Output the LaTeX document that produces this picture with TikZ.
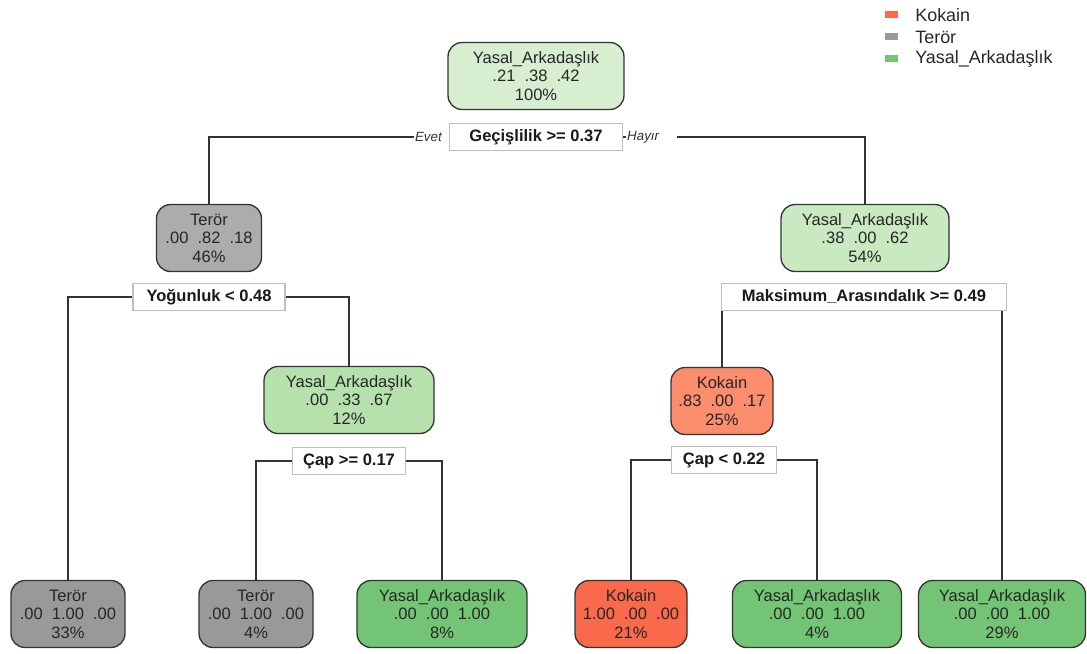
\documentclass[tikz,border=0pt]{standalone}
\usepackage{fontspec}
\setmainfont{Liberation Sans}
\usetikzlibrary{backgrounds}
\definecolor{kokainA}{RGB}{250,105,75}
\definecolor{kokainB}{RGB}{252,140,110}
\definecolor{terorA}{RGB}{153,153,153}
\definecolor{terorB}{RGB}{172,172,172}
\definecolor{yasalA}{RGB}{116,196,118}
\definecolor{yasalB}{RGB}{182,225,172}
\definecolor{yasalC}{RGB}{201,233,193}
\definecolor{yasalD}{RGB}{215,238,209}
\newcommand\gp{\hspace{0.55em}}
\tikzset{
  box/.style={draw=black!80, line width=0.75pt, rounded corners=0.28cm, minimum height=1.34cm,
    align=center, inner sep=1pt, text=black!85, font=\fontsize{9.4}{10.5}\selectfont},
  split/.style={draw=black!25, fill=white, line width=0.6pt, minimum height=0.54cm, inner sep=1pt,
    text=black!90, font=\bfseries\fontsize{9.4}{11}\selectfont},
  branch/.style={draw=black!80, line width=0.75pt},
  side/.style={inner sep=0.5pt, font=\itshape\fontsize{7.6}{9}\selectfont, text=black!80}
}
\begin{document}
\begin{tikzpicture}[x=0.02cm, y=-0.02cm]
\useasboundingbox (0,0) rectangle (1087,653);
% root
\node[box, fill=yasalD, minimum width=3.52cm] (kok) at (536,76) {Yasal\_Arkadaşlık\\.21\gp.38\gp.42\\100\%};
\node[split, minimum width=3.46cm] (gec) at (536,137) {Geçişlilik >= 0.37};
\node[side, anchor=east] (evet) at (443,137) {Evet};
\node[side, anchor=west] (hayir) at (626,137) {Hayır};
\coordinate (hayirson) at (677,137);
% left side
\node[box, fill=terorB, minimum width=2.1cm] (ter46) at (209,238) {Terör\\.00\gp.82\gp.18\\46\%};
\node[split, minimum width=3.04cm] (yog) at (209,297) {Yoğunluk < 0.48};
\node[box, fill=yasalB, minimum width=3.4cm] (yas12) at (349,400) {Yasal\_Arkadaşlık\\.00\gp.33\gp.67\\12\%};
\node[split, minimum width=2.26cm] (cap1) at (349,461) {Çap >= 0.17};
% right side
\node[box, fill=yasalC, minimum width=3.36cm] (yas54) at (865,238) {Yasal\_Arkadaşlık\\.38\gp.00\gp.62\\54\%};
\node[split, minimum width=5.7cm] (maks) at (864,297) {Maksimum\_Arasındalık >= 0.49};
\node[box, fill=kokainB, minimum width=2.04cm] (kok25) at (722,401) {Kokain\\.83\gp.00\gp.17\\25\%};
\node[split, minimum width=2.1cm] (cap2) at (724,460) {Çap < 0.22};
% leaves
\node[box, fill=terorA, minimum width=2.28cm] (ter33) at (68,614) {Terör\\.00\gp1.00\gp.00\\33\%};
\node[box, fill=terorA, minimum width=2.28cm] (ter4) at (256,614) {Terör\\.00\gp1.00\gp.00\\4\%};
\node[box, fill=yasalA, minimum width=3.4cm] (yas8) at (442,614) {Yasal\_Arkadaşlık\\.00\gp.00\gp1.00\\8\%};
\node[box, fill=kokainA, minimum width=2.24cm] (kok21) at (631,614) {Kokain\\1.00\gp.00\gp.00\\21\%};
\node[box, fill=yasalA, minimum width=3.38cm] (yas4) at (817,614) {Yasal\_Arkadaşlık\\.00\gp.00\gp1.00\\4\%};
\node[box, fill=yasalA, minimum width=3.34cm] (yas29) at (1002,614) {Yasal\_Arkadaşlık\\.00\gp.00\gp1.00\\29\%};
% branches
\begin{scope}[on background layer]
\draw[branch] (evet.west) -| (ter46);
\draw[branch] (gec.east) -- (hayir.west);
\draw[branch] (hayirson) -| (yas54);
\draw[branch] (yog) -| (ter33);
\draw[branch] (yog) -| (yas12);
\draw[branch] (cap1) -| (ter4);
\draw[branch] (cap1) -| (yas8);
\draw[branch] (maks) -| (kok25);
\draw[branch] (maks) -| (yas29);
\draw[branch] (cap2) -| (kok21);
\draw[branch] (cap2) -| (yas4);
\end{scope}
% legend
\begin{scope}[font=\fontsize{10.2}{12}\selectfont, text=black!85]
\fill[kokainA] (885,11) rectangle (898,18);
\node[anchor=west, inner sep=0pt] (lkok) at (915,15) {Kokain};
\fill[terorA] (885,33) rectangle (898,40);
\node[anchor=west, inner sep=0pt] (lter) at (915,37) {Terör};
\fill[yasalA] (885,55) rectangle (898,62);
\node[anchor=west, inner sep=0pt] (lyas) at (915,59) {Yasal\_Arkadaşlık};
\end{scope}
\end{tikzpicture}
\end{document}
